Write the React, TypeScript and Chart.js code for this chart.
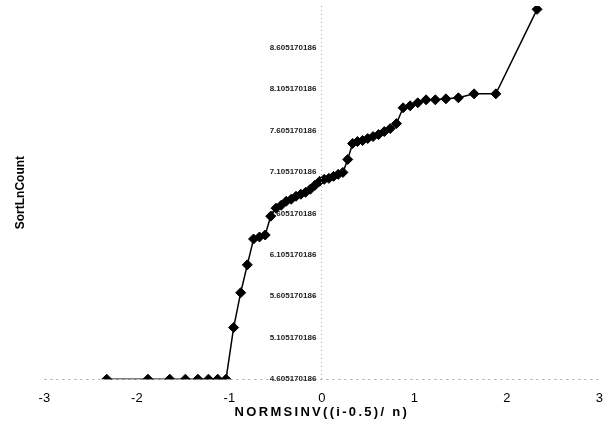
import { useEffect, useRef } from 'react';
import { Chart, registerables } from 'chart.js';

Chart.register(...registerables);

// NORMSINV((i-0.5)/n) for i = 1..50
const X_VALUES = [
  -2.3263, -1.8808, -1.6449, -1.4758, -1.3408, -1.2265, -1.1264, -1.0364, -0.9542, -0.8779,
  -0.8064, -0.7388, -0.6745, -0.6128, -0.5534, -0.4959, -0.4399, -0.3853, -0.3319, -0.2793,
  -0.2275, -0.1764, -0.1257, -0.0753, -0.0251, 0.0251, 0.0753, 0.1257, 0.1764, 0.2275,
  0.2793, 0.3319, 0.3853, 0.4399, 0.4959, 0.5534, 0.6128, 0.6745, 0.7388, 0.8064,
  0.8779, 0.9542, 1.0364, 1.1264, 1.2265, 1.3408, 1.4758, 1.6449, 1.8808, 2.3263,
];

// SortLnCount
const Y_VALUES = [
  4.605, 4.605, 4.605, 4.605, 4.605, 4.605, 4.605, 4.605, 5.228, 5.648,
  5.984, 6.296, 6.32, 6.344, 6.571, 6.667, 6.703, 6.751, 6.775, 6.811,
  6.835, 6.859, 6.895, 6.943, 6.991, 7.015, 7.027, 7.051, 7.075, 7.099,
  7.255, 7.447, 7.471, 7.483, 7.507, 7.531, 7.555, 7.591, 7.627, 7.687,
  7.878, 7.902, 7.938, 7.974, 7.974, 7.986, 7.998, 8.046, 8.046, 9.065,
];

const X_TICKS = [-3, -2, -1, 0, 1, 2, 3];
const Y_TICKS = [
  4.605170186, 5.105170186, 5.605170186, 6.105170186, 6.605170186,
  7.105170186, 7.605170186, 8.105170186, 8.605170186,
];
const Y_MIN = 4.605170186;
const Y_MAX = 9.105170186;

const FAMILY = "'Liberation Sans', Arial, sans-serif";
const AXIS_GREY = '#a8a8a8';
const NONE = 'rgba(0,0,0,0)';

export default function App() {
  const ref = useRef<HTMLCanvasElement>(null);

  useEffect(() => {
    if (!ref.current) return;
    const spacing = {
      id: 'titleSpacing',
      afterDatasetsDraw(chart: any) {
        chart.ctx.letterSpacing = '2.3px';
      },
      afterDraw(chart: any) {
        chart.ctx.letterSpacing = '0px';
      },
    };
    const chart = new Chart(ref.current, {
      type: 'scatter',
      data: {
        datasets: [
          {
            data: X_VALUES.map((x, i) => ({ x, y: Y_VALUES[i] })),
            showLine: true,
            borderColor: '#000',
            backgroundColor: '#000',
            borderWidth: 1.5,
            pointStyle: 'rectRot',
            pointRadius: 5,
            pointBorderWidth: 1,
            pointBackgroundColor: '#000',
            pointBorderColor: '#000',
          },
        ],
      },
      options: {
        animation: false,
        responsive: true,
        maintainAspectRatio: false,
        layout: { padding: { left: 9, right: 14, top: 3, bottom: 12 } },
        plugins: { legend: { display: false }, tooltip: { enabled: false } },
        scales: {
          x: {
            type: 'linear',
            position: 'bottom',
            min: -3,
            max: 3,
            afterBuildTicks: (s: any) => {
              s.ticks = X_TICKS.map((v) => ({ value: v }));
            },
            grid: {
              display: true,
              drawOnChartArea: true,
              drawTicks: false,
              z: 1,
              color: (c: any) => (c.tick && c.tick.value === 0 ? AXIS_GREY : NONE),
            },
            border: { display: false, dash: [1, 3] },
            ticks: {
              font: { family: FAMILY, size: 13 },
              color: '#000',
              padding: 11,
              maxRotation: 0,
            },
            title: {
              display: true,
              text: 'NORMSINV((i-0.5)/ n)',
              font: { family: FAMILY, size: 13, weight: 'bold' },
              color: '#000',
              padding: { top: -12, bottom: 9.6 },
            },
          },
          y: {
            type: 'linear',
            position: { x: -0.06 } as any,
            min: Y_MIN,
            max: Y_MAX,
            afterBuildTicks: (s: any) => {
              s.ticks = Y_TICKS.map((v) => ({ value: v }));
            },
            afterFit: (s: any) => {
              s.paddingTop = 0;
              s.paddingBottom = 0;
            },
            grid: {
              display: true,
              drawOnChartArea: true,
              drawTicks: true,
              tickLength: 3,
              tickColor: AXIS_GREY,
              color: (c: any) => (c.tick && c.tick.value === Y_MIN ? AXIS_GREY : NONE),
            },
            border: { display: false, dash: [2, 4] },
            ticks: {
              callback: (v: any) => Number(v).toFixed(9),
              font: { family: FAMILY, size: 8, weight: 'bold' },
              color: '#222',
              padding: 3,
            },
          },
          y2: {
            type: 'linear',
            position: 'left',
            display: true,
            ticks: { display: false },
            grid: { display: false, drawTicks: false },
            border: { display: false },
            title: {
              display: true,
              text: 'SortLnCount',
              font: { family: FAMILY, size: 12, weight: 'bold' },
              color: '#000',
              padding: { top: 4, bottom: 17 },
            },
          },
        },
      },
      plugins: [spacing],
    } as any);
    return () => chart.destroy();
  }, []);

  return (
    <div style={{ position: 'fixed', left: 0, top: 0, width: 614, height: 442, background: '#fff' }}>
      <canvas ref={ref} />
    </div>
  );
}
